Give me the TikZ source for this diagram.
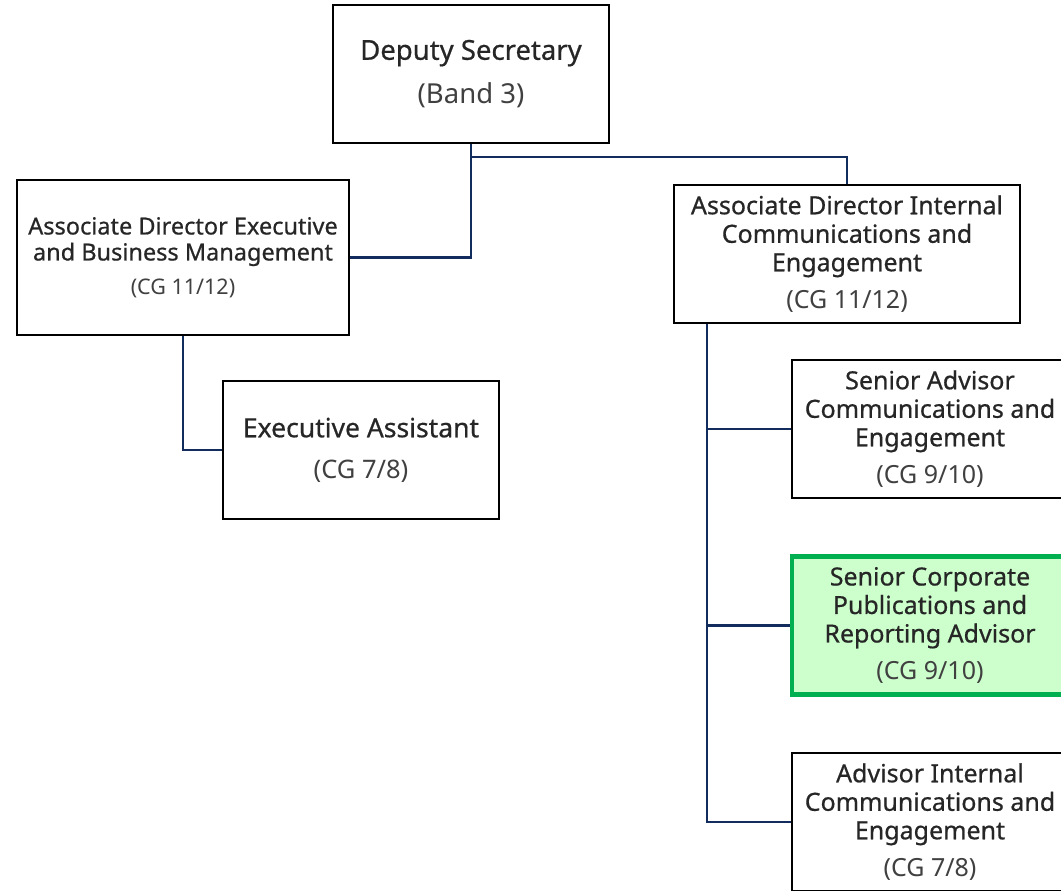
\documentclass[tikz,border=0pt]{standalone}
\usepackage{fontspec}
\setmainfont{Noto Sans}
\newfontfamily\titlefont[FakeBold=0.6]{Noto Sans}
\definecolor{linkblue}{HTML}{132C5E}
\definecolor{gradegray}{HTML}{404040}
\definecolor{hlgreen}{HTML}{00B050}
\definecolor{hlfill}{HTML}{CCFFCC}
\tikzset{
  role/.style={draw=black, line width=2pt, fill=white, align=center, inner sep=0pt,
    text=black!85, font=\titlefont\fontsize{25}{28.5}\selectfont},
  highlight/.style={role, draw=hlgreen, fill=hlfill, line width=4.5pt},
  link/.style={draw=linkblue, line width=2.4pt}
}
\newcommand{\grade}[1]{{\normalfont\color{gradegray}#1}}
\begin{document}
\begin{tikzpicture}[x=1pt, y=-1pt]
        \clip (0,0) rectangle (1061,891);
        \fill[white] (0,0) rectangle (1061,891);
        % Draw the boxes
        \node[role, minimum width=276pt, minimum height=138pt, font=\titlefont\fontsize{27.5}{30}\selectfont] (dep) at (471,74)
          {Deputy Secretary\\[14pt]\grade{\fontsize{27.5}{30}\selectfont(Band 3)}};
        \node[role, minimum width=332pt, minimum height=155pt, font=\titlefont\fontsize{23.5}{26}\selectfont] (adexec) at (183,257.5)
          {Associate Director Executive\\and Business Management\\[8pt]\grade{\fontsize{21.5}{24}\selectfont(CG 11/12)}};
        \node[role, minimum width=276pt, minimum height=138pt, font=\titlefont\fontsize{26.5}{30}\selectfont] (exasst) at (361,450)
          {Executive Assistant\\[11pt]\grade{\fontsize{25.5}{30}\selectfont(CG 7/8)}};
        \node[role, minimum width=346pt, minimum height=138pt] (adint) at (847,254)
          {Associate Director Internal\\Communications and\\Engagement\\[9pt]\grade{\fontsize{25}{28.5}\selectfont(CG 11/12)}};
        \node[role, minimum width=276pt, minimum height=138pt] (sradv) at (930,429)
          {Senior Advisor\\Communications and\\Engagement\\[9pt]\grade{\fontsize{25}{28.5}\selectfont(CG 9/10)}};
        \node[highlight, minimum width=276pt, minimum height=138pt] (srcorp) at (930,625.5)
          {Senior Corporate\\Publications and\\Reporting Advisor\\[9pt]\grade{\fontsize{25}{28.5}\selectfont(CG 9/10)}};
        \node[role, minimum width=276pt, minimum height=138pt] (advint) at (930,822)
          {Advisor Internal\\Communications and\\Engagement\\[9pt]\grade{\fontsize{25}{28.5}\selectfont(CG 7/8)}};
        % Draw the links
        \draw[link] (dep.south) |- (adexec.east);
        \draw[link] (dep.south) -- ++(0,13) -| (adint.north);
        \draw[link] (adexec.south) |- (exasst.west);
        \coordinate (spine) at ([xshift=34pt]adint.south west);
        \draw[link] (spine) |- (advint.west);
        \draw[link] (spine) |- (sradv.west);
        \draw[link] (spine) |- (srcorp.west);
    \end{tikzpicture}
\end{document}
